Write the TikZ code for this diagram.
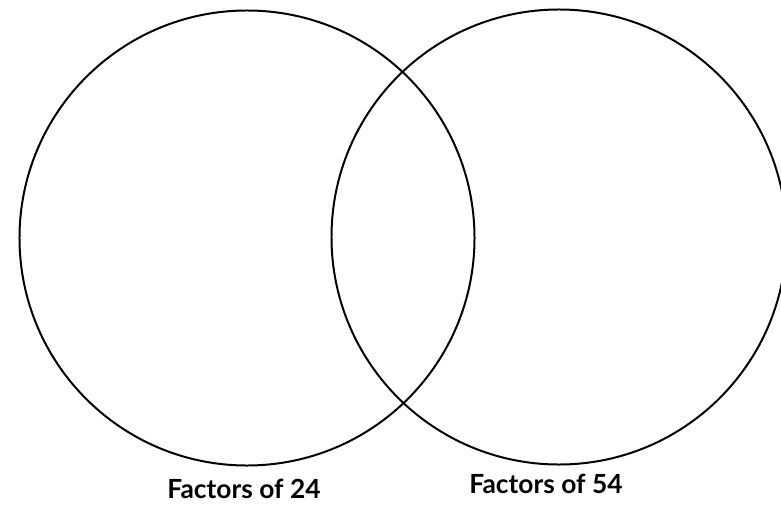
\documentclass[tikz,border=0pt]{standalone}
\usepackage{fontspec}
\setmainfont{Lato}
\usetikzlibrary{positioning}

\begin{document}
\begin{tikzpicture}[
    x=0.03cm, y=-0.03cm,
    setcircle/.style={circle, draw, line width=1.7pt, minimum size=13.65cm, inner sep=0pt},
    setlabel/.style={font=\bfseries\fontsize{22.5}{26}\selectfont, inner sep=0pt}
]
\useasboundingbox (0,0) rectangle (781,505);

\node[setcircle] (A) at (247,238) {};
\node[setcircle] (B) at (559,237) {};

\node[setlabel] (la) at (244,489) {Factors of 24};
\node[setlabel] (lb) at (546,484) {Factors of 54};

\end{tikzpicture}
\end{document}
